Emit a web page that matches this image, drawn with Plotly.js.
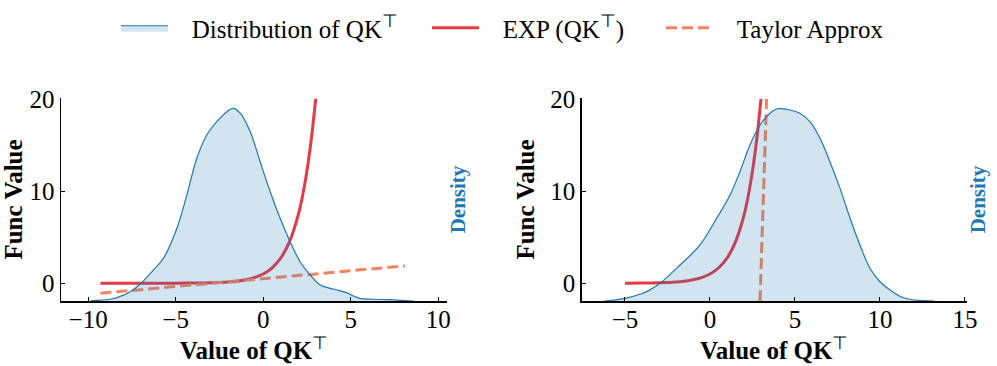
<!DOCTYPE html>
<html>
<head>
<meta charset="utf-8">
<script src="https://cdn.plot.ly/plotly-3.0.1.min.js"></script>
<style>
  html, body { margin: 0; padding: 0; background: white; }
  #chart { width: 997px; height: 366px; }
</style>
</head>
<body>
<div id="chart"></div>
<script>
// left panel: kde of QK^T values (density)
var densXL = [-9.9, -9.3, -8.74, -8.17, -7.6, -7.0, -6.3, -5.7, -4.93, -4.36, -3.79, -3.22, -2.65, -2.07, -1.73, -1.31, -0.74, -0.17, 0.4, 0.97, 1.54, 2.11, 2.69, 3.26, 3.83, 4.3, 4.76, 5.15, 5.52, 6.29, 7.24, 7.9, 8.6];
var densYL = [0, 0.0008, 0.0017, 0.0045, 0.0092, 0.017, 0.030, 0.042, 0.0716, 0.1044, 0.1406, 0.1635, 0.1767, 0.1865, 0.1898, 0.185, 0.1668, 0.137, 0.1077, 0.0815, 0.0584, 0.0387, 0.0256, 0.0158, 0.0125, 0.0105, 0.0082, 0.005, 0.0026, 0.0017, 0.0013, 0.0006, 0];

// right panel kde
var densXR = [-6.2, -5.88, -5.0, -4.12, -3.73, -2.94, -1.76, -0.59, 0.39, 1.18, 1.76, 2.35, 2.94, 3.53, 3.92, 4.71, 5.29, 5.88, 6.47, 7.06, 7.65, 8.24, 8.82, 9.41, 10.0, 10.59, 11.2, 11.8, 12.6, 13.2];
var densYR = [0, 0.0005, 0.0026, 0.0066, 0.0092, 0.0174, 0.0355, 0.0552, 0.0815, 0.1044, 0.1274, 0.1537, 0.1734, 0.185, 0.1892, 0.1882, 0.185, 0.1767, 0.1603, 0.137, 0.111, 0.0815, 0.0552, 0.0322, 0.019, 0.0108, 0.0045, 0.0015, 0.0003, 0];

// exp curves
var expXL = [-9.3, -7, -5, -4, -3, -2, -1.5, -1, -0.5, 0, 0.5, 1, 1.5, 2, 2.25, 2.5, 2.75, 3.0];
var expYL = [0, 0.001, 0.007, 0.018, 0.05, 0.135, 0.22, 0.37, 0.61, 1.0, 1.65, 2.72, 4.48, 7.39, 9.49, 12.18, 15.64, 20.0];
var expXR = [-5, -4, -3, -2, -1.5, -1, -0.5, 0, 0.5, 1, 1.5, 2, 2.25, 2.5, 2.75, 3.0];
var expYR = [0.007, 0.018, 0.05, 0.135, 0.22, 0.37, 0.61, 1.0, 1.65, 2.72, 4.48, 7.39, 9.49, 12.18, 15.64, 20.0];

// taylor approx lines
var taylorXL = [-9.3, 8.1];
var taylorYL = [-1.09, 1.88];
var taylorXR = [2.94, 3.33];
var taylorYR = [-1.93, 20.0];

var xTicksL = [-10, -5, 0, 5, 10];
var xTicksR = [-5, 0, 5, 10, 15];
var yTicks = [0, 10, 20];

var blue = '#1f77b4';
var red = '#e63946';
var orange = '#f4845f';
var fontFam = 'Liberation Serif, Times New Roman, serif';
var pad = '\u00a0\u00a0\u00a0';  // gap between legend symbol and text

function expTrace(x, y, xa, ya, show) {
    return {
        x: x, y: y, xaxis: xa, yaxis: ya,
        type: 'scatter', mode: 'lines',
        name: pad + 'EXP (QK<sup>⊤</sup>)',
        legend: 'legend2',
        showlegend: show,
        line: { color: red, width: 3, shape: 'spline' }
    };
}

function taylorTrace(x, y, xa, ya, show) {
    return {
        x: x, y: y, xaxis: xa, yaxis: ya,
        type: 'scatter', mode: 'lines',
        name: pad + 'Taylor Approx',
        legend: 'legend3',
        showlegend: show,
        line: { color: orange, width: 3, dash: '11px,5px' }
    };
}

function densTrace(x, y, xa, ya, show) {
    return {
        x: x, y: y, xaxis: xa, yaxis: ya,
        type: 'scatter', mode: 'lines',
        fill: 'tozeroy',
        fillcolor: 'rgba(31,119,180,0.2)',
        name: pad + 'Distribution of QK<sup>⊤</sup>',
        legend: 'legend',
        showlegend: show,
        line: { color: blue, width: 1.2, shape: 'spline' }
    };
}

var traces = [
    expTrace(expXL, expYL, 'x', 'y', true),
    taylorTrace(taylorXL, taylorYL, 'x', 'y', true),
    densTrace(densXL, densYL, 'x', 'y2', true),
    expTrace(expXR, expYR, 'x2', 'y3', false),
    taylorTrace(taylorXR, taylorYR, 'x2', 'y3', false),
    densTrace(densXR, densYR, 'x2', 'y4', false)
];

function xAxis(domain, range, ticks, anchor) {
    return {
        domain: domain, range: range, anchor: anchor,
        tickvals: ticks,
        ticks: 'inside', ticklen: 4, tickwidth: 1, tickcolor: 'black',
        showline: true, linecolor: 'black', linewidth: 1.5,
        showgrid: false, zeroline: false,
        tickfont: { size: 25 },
        ticklabelstandoff: -5,
        automargin: 'bottom',
        title: { text: '<b>Value of QK</b><sup>⊤</sup>', font: { size: 25 }, standoff: 4 }
    };
}

function yAxis(anchor) {
    return {
        range: [-1.93, 20.1], anchor: anchor,
        tickvals: yTicks,
        ticks: 'inside', ticklen: 4, tickwidth: 1, tickcolor: 'black',
        showline: true, linecolor: 'black', linewidth: 1.5,
        showgrid: false, zeroline: false,
        tickfont: { size: 25 },
        automargin: false,
        title: { text: '<b>Func Value</b>', font: { size: 25 }, standoff: 8 }
    };
}

function densAxis(over, anchor) {
    return {
        overlaying: over, anchor: anchor, side: 'right',
        range: [0, 0.2],
        showticklabels: false, ticks: '',
        showline: false, showgrid: false, zeroline: false,
        automargin: false,
        title: { text: '<b>Density</b>', font: { size: 21, color: blue }, standoff: 3 }
    };
}

function legendAt(x) {
    return {
        x: x, y: 1.3448, xanchor: 'left', yanchor: 'middle',
        orientation: 'h',
        bgcolor: 'rgba(0,0,0,0)', borderwidth: 0,
        itemwidth: 47,
        font: { size: 25 }
    };
}

var layout = {
    width: 997, height: 366,
    margin: { l: 0, r: 0, t: 98, b: 65 },
    paper_bgcolor: 'white',
    plot_bgcolor: 'rgba(0,0,0,0)',
    font: { family: fontFam, size: 22, color: 'black' },
    showlegend: true,
    xaxis: xAxis([0.0612, 0.4483], [-11.55, 10.5], xTicksL, 'y'),
    yaxis: yAxis('x'),
    yaxis2: densAxis('y', 'x'),
    xaxis2: xAxis([0.5834, 0.9696], [-7.55, 15.1], xTicksR, 'y3'),
    yaxis3: yAxis('x2'),
    yaxis4: densAxis('y3', 'x2'),
    legend: legendAt(0.1163),
    legend2: legendAt(0.4283),
    legend3: legendAt(0.663)
};

Plotly.newPlot('chart', traces, layout, { displayModeBar: false, staticPlot: true });
</script>
</body>
</html>
